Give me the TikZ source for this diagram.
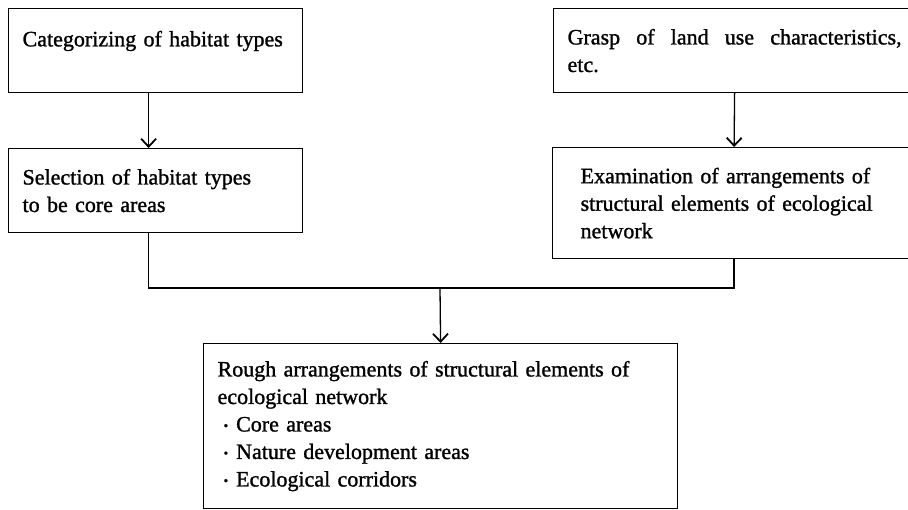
\documentclass[tikz,border=0pt]{standalone}
\usepackage{fontspec}
\setmainfont{Liberation Serif}[BoldFont=Liberation Serif,BoldFeatures={FakeBold=1.2}]
\usetikzlibrary{arrows.meta,positioning}

\newcommand{\itemdot}{\hspace*{6pt}\raisebox{1.5pt}{\fontsize{13pt}{0pt}\selectfont\textbullet}\hspace{8pt}}

\tikzset{
  flowbox/.style={draw,line width=1.2pt,anchor=north west,align=left,
    inner xsep=14pt,inner ysep=0pt,
    font=\fontsize{22pt}{27.5pt}\selectfont\bfseries},
  flowline/.style={line width=1.3pt},
  flowarrow/.style={flowline,-{Straight Barb[length=8pt,width=15pt,line width=1.8pt]}}
}

\begin{document}
\begin{tikzpicture}[x=1pt,y=-1pt]
  \useasboundingbox[fill=white] (0,0) rectangle (908,509);

  % upper row
  \node[flowbox,text width=266pt,minimum height=84pt,text depth=24pt] (cat) at (8,8)
    {Categorizing of habitat types};
  \node[flowbox,text width=334pt,minimum height=84pt] (grasp) at (553,8)
    {Grasp\hfill of\hfill land\hfill use\hfill characteristics,\\etc.};

  % second row
  \node[flowbox,text width=266pt,minimum height=84pt] (sel) at (8,148)
    {Selection of habitat types\\to be core areas};
  \node[flowbox,inner xsep=28pt,text width=307pt,minimum height=111pt] (exam) at (552,147)
    {Examination of arrangements of\\structural elements of ecological\\network};

  % result
  \node[flowbox,text width=446pt,minimum height=165pt] (rough) at (203,343)
    {Rough arrangements of structural elements of\\ecological network\\
     \itemdot Core areas\\
     \itemdot Nature development areas\\
     \itemdot Ecological corridors};

  \coordinate (merge) at (440,288);

  \draw[flowarrow] ([xshift=-7pt]cat.south) -- ([xshift=-7pt]sel.north);
  \draw[flowarrow] (grasp.south) -- (exam.north);
  \draw[flowline] ([xshift=-7pt]sel.south) |- (merge) -| (exam.south);
  \draw[flowarrow] (merge) -- (rough.north);
\end{tikzpicture}
\end{document}
